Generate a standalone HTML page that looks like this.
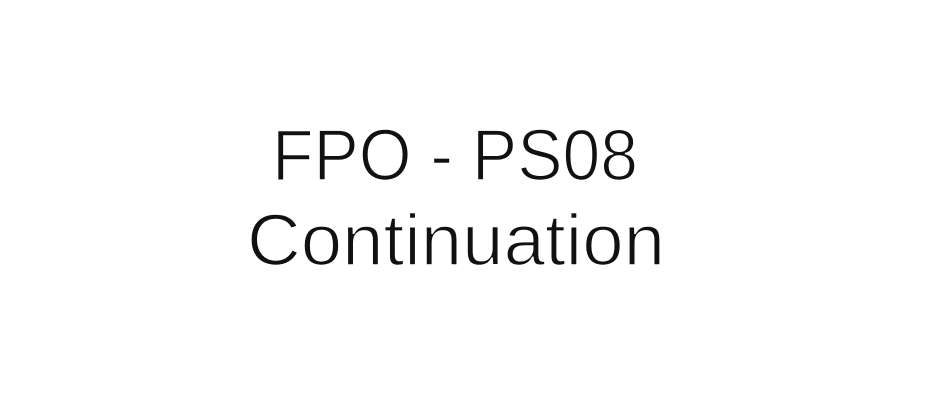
<!DOCTYPE html>
<html>
<head>
<meta charset="utf-8">
<style>
html,body{margin:0;padding:0;background:#fff;width:930px;height:409px;overflow:hidden;}
svg{display:block;}
text{font-family:"Liberation Sans",sans-serif;fill:#111;stroke:#fff;stroke-width:1.6px;}
</style>
</head>
<body>
<svg width="930" height="409" viewBox="0 0 930 409" xmlns="http://www.w3.org/2000/svg">
<rect width="930" height="409" fill="#fff"/>
<text x="272" y="180" font-size="72" textLength="366" lengthAdjust="spacingAndGlyphs">FPO - PS08</text>
<text x="247" y="265" font-size="72" textLength="418" lengthAdjust="spacingAndGlyphs">Continuation</text>
</svg>
</body>
</html>
